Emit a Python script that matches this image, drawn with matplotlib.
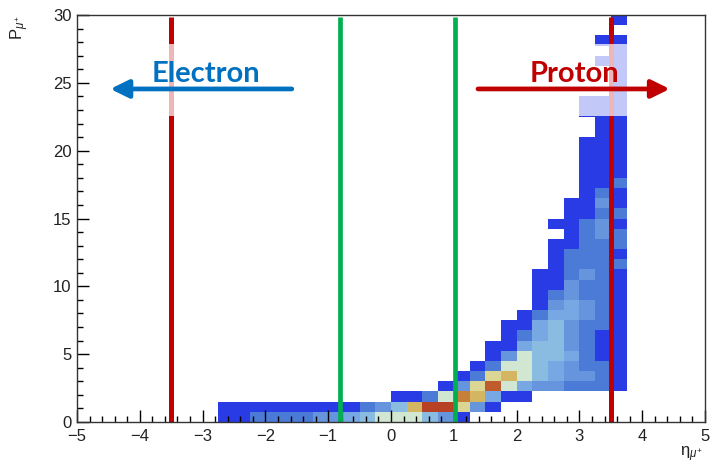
import numpy as np
import matplotlib.pyplot as plt
from matplotlib.colors import LinearSegmentedColormap, LogNorm
from matplotlib.patches import Rectangle
from matplotlib.ticker import MultipleLocator

plt.rcParams['font.family'] = ['Liberation Sans', 'DejaVu Sans']
plt.rcParams['mathtext.fontset'] = 'custom'
plt.rcParams['mathtext.rm'] = 'Liberation Sans'
plt.rcParams['mathtext.it'] = 'Liberation Sans:italic'

# 40 x 40 bins, eta in [-5, 5], P in [0, 30]
eta_edges = np.linspace(-5, 5, 41)
p_edges = np.linspace(0, 30, 41)

# for every P row: first filled eta bin and the counts from there on
row_start = [9, 9, 20, 23, 24, 25, 26, 26, 27, 27,
             28, 29, 29, 29, 29, 30, 30, 30, 31, 30,
             31, 31, 32, 32, 32, 32, 32, 32, 33, 33,
             32, 32, 34, 34, 34, 33, 34, 33, 34, 34]
row_counts = [
    [1, 1, 2, 2, 2, 2, 3, 3, 4, 6, 22, 22, 22, 6, 3, 1],
    [1, 1, 1, 1, 1, 1, 1, 1, 1, 2, 3, 6, 130, 600, 600, 60, 3, 1],
    [1, 1, 2, 22, 270, 130, 4, 1, 1],
    [1, 3, 60, 420, 22, 4, 3, 3, 2, 2, 2, 1],
    [1, 2, 60, 130, 22, 6, 4, 3, 3, 2, 1],
    [1, 2, 22, 22, 6, 4, 3, 2, 2, 1],
    [1, 3, 22, 6, 6, 4, 2, 1, 1],
    [1, 1, 4, 6, 6, 3, 2, 1, 1],
    [1, 2, 4, 6, 3, 2, 1, 1],
    [1, 1, 4, 6, 3, 2, 2, 1],
    [1, 2, 4, 4, 3, 2, 1],
    [1, 3, 4, 3, 2, 1],
    [1, 2, 3, 2, 2, 1],
    [1, 1, 3, 2, 2, 1],
    [1, 1, 2, 3, 2, 1],
    [1, 2, 2, 2, 2],
    [1, 2, 2, 2, 1],
    [1, 1, 2, 2, 2],
    [1, 2, 3, 2],
    [1, 1, 2, 3, 1],
    [1, 1, 2, 2],
    [1, 1, 3, 1],
    [1, 2, 1],
    [1, 1, 2],
    [1, 1, 1],
    [1, 1, 1],
    [1, 1, 1],
    [1, 1, 1],
    [1, 1],
    [1, 1],
    [1, 1, 1],
    [1, 1, 1],
    [1],
    [1],
    [1],
    [1, 1],
    [1],
    [1, 1],
    [],
    [1],
]

red_cuts = [-3.5, 3.5]
green_cuts = [-0.82, 1.02]

counts = np.zeros((40, 40))
for j in range(40):
    s = row_start[j]
    counts[j, s:s + len(row_counts[j])] = row_counts[j]
counts = np.ma.masked_equal(counts, 0)

palette = [(31, 40, 234), (71, 117, 214), (123, 171, 228), (160, 211, 222),
           (210, 231, 210), (222, 220, 160), (214, 190, 105), (199, 132, 60),
           (183, 65, 34)]
cmap = LinearSegmentedColormap.from_list(
    'lighttemp', [tuple(v / 255 for v in c) for c in palette])

fig = plt.figure(figsize=(7.13, 4.67), dpi=100)
ax = fig.add_axes([77 / 713, 1 - 422 / 467, 628 / 713, 407 / 467])
ax.pcolormesh(eta_edges, p_edges, counts, cmap=cmap,
              norm=LogNorm(vmin=0.8, vmax=600), zorder=1)

ax.vlines(red_cuts, 0, 29.85, colors='#c00000', linewidth=3.6, zorder=2)
ax.vlines(green_cuts, 0, 29.85, colors='#00b050', linewidth=3.4, zorder=2)

# half transparent white boxes behind the labels
for x0, x1 in [(-4.57, -1.51), (1.32, 4.51)]:
    ax.add_patch(Rectangle((x0, 22.55), x1 - x0, 27.86 - 22.55,
                           facecolor='white', edgecolor='none', alpha=0.72,
                           zorder=3))

arrow_style = '-|>,head_length=0.55,head_width=0.27'
ax.annotate('', xy=(-4.47, 24.55), xytext=(-1.58, 24.55),
            arrowprops=dict(arrowstyle=arrow_style, color='#0070c0', lw=3.4,
                            mutation_scale=20, shrinkA=0, shrinkB=0),
            zorder=4)
ax.annotate('', xy=(4.44, 24.55), xytext=(1.385, 24.55),
            arrowprops=dict(arrowstyle=arrow_style, color='#c00000', lw=3.4,
                            mutation_scale=20, shrinkA=0, shrinkB=0),
            zorder=4)
ax.text(-2.95, 25.06, 'Electron', color='#0070c0', fontsize=21,
        fontweight='bold', family='Lato', ha='center', va='baseline', zorder=5)
ax.text(2.92, 25.06, 'Proton', color='#c00000', fontsize=21,
        fontweight='bold', family='Lato', ha='center', va='baseline', zorder=5)

ax.set_xlim(-5, 5)
ax.set_ylim(0, 30)
ax.xaxis.set_major_locator(MultipleLocator(1))
ax.xaxis.set_minor_locator(MultipleLocator(0.2))
ax.yaxis.set_major_locator(MultipleLocator(5))
ax.yaxis.set_minor_locator(MultipleLocator(1))
ax.tick_params(which='both', direction='in', top=False, right=False,
               labelsize=12, labelcolor='#222222', width=1)
ax.tick_params(which='major', length=8.5)
ax.tick_params(which='minor', length=4.5)
ax.tick_params(axis='x', pad=5)
ax.tick_params(axis='y', pad=4)
for s in ax.spines.values():
    s.set_linewidth(1)
    s.set_color('#333333')

fig.text(20 / 713, 1 - 15 / 467, r'$\mathrm{P}_{\mu^{+}}$', rotation=90,
         ha='center', va='top', fontsize=12, color='#222222')
fig.text(703 / 713, 1 - 444 / 467, r'$\mathrm{\eta}_{\mu^{+}}$', ha='right',
         va='top', fontsize=12, color='#222222')

fig.savefig('out.png', dpi=100)
